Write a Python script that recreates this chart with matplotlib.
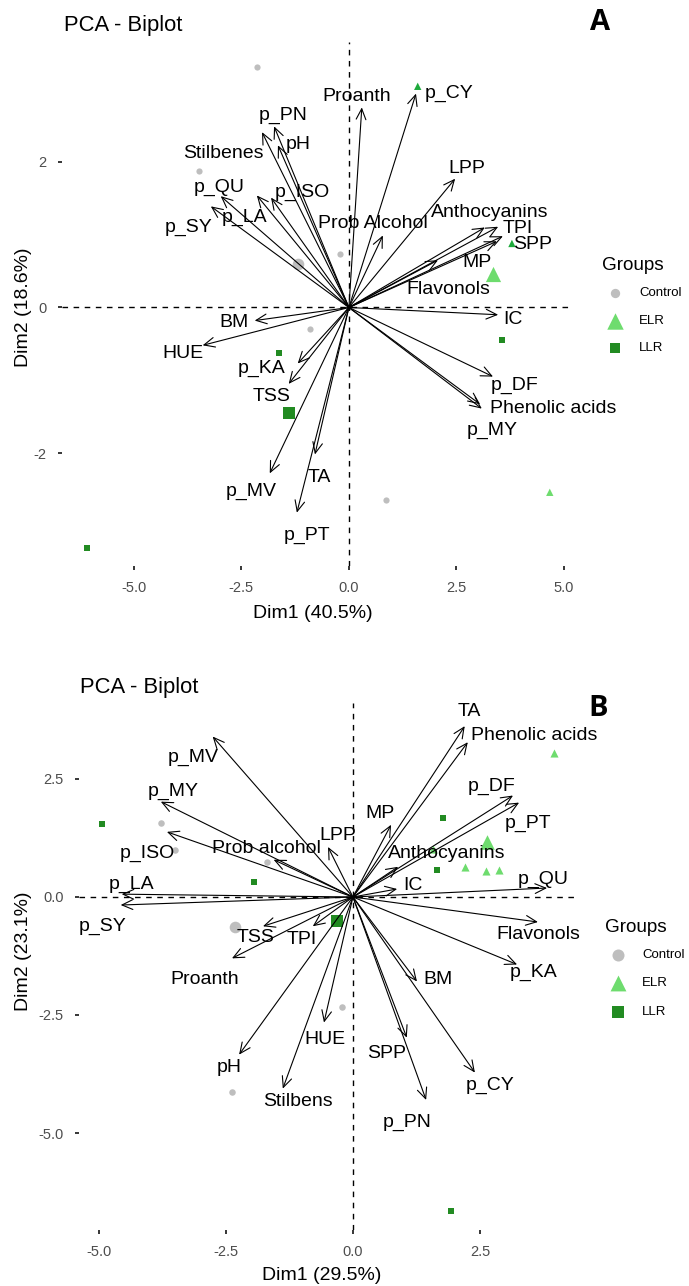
import numpy as np
import matplotlib
matplotlib.use("Agg")
import matplotlib.pyplot as plt

plt.rcParams["font.family"] = ["Liberation Sans", "DejaVu Sans"]

# ---------------- Panel A data ----------------
A_axis_x = "Dim1 (40.5%)"
A_axis_y = "Dim2 (18.6%)"
A_vars = ["Proanth", "p_CY", "LPP", "Anthocyanins", "TPI", "SPP", "MP", "Flavonols",
          "Prob Alcohol", "IC", "p_DF", "Phenolic acids", "p_MY", "BM", "HUE", "p_KA",
          "TSS", "p_MV", "TA", "p_PT", "p_PN", "Stilbenes", "pH", "p_QU", "p_SY",
          "p_LA", "p_ISO"]
A_load1 = [0.30, 1.56, 2.47, 3.16, 3.47, 3.58, 3.44, 2.07,
           0.79, 3.47, 3.35, 3.09, 3.05, -2.19, -3.40, -1.19,
           -1.40, -1.84, -0.79, -1.21, -1.74, -2.02, -1.65, -2.98, -3.21,
           -2.14, -1.81]
A_load2 = [2.75, 2.94, 1.77, 1.10, 1.11, 0.98, 0.91, 0.65,
           0.99, -0.10, -0.95, -1.39, -1.33, -0.18, -0.52, -0.77,
           -1.05, -2.28, -2.02, -2.82, 2.49, 2.41, 2.23, 1.53, 1.39,
           1.54, 1.51]
A_control_x = [-2.14, -3.49, -0.21, -0.91, 0.86]
A_control_y = [3.30, 1.87, 0.74, -0.30, -2.65]
A_elr_x = [1.60, 3.79, 4.67]
A_elr_y = [3.04, 0.88, -2.54]
A_llr_x = [-1.63, 3.56, -6.09]
A_llr_y = [-0.62, -0.44, -3.31]

# ---------------- Panel B data ----------------
B_axis_x = "Dim1 (29.5%)"
B_axis_y = "Dim2 (23.1%)"
B_vars = ["TA", "Phenolic acids", "p_DF", "p_PT", "MP", "Anthocyanins", "IC", "p_QU",
          "Flavonols", "p_KA", "BM", "SPP", "p_CY", "p_PN", "HUE", "pH", "Stilbens",
          "Proanth", "LPP", "Prob alcohol", "TSS", "TPI", "p_MV", "p_MY", "p_ISO",
          "p_LA", "p_SY"]
B_load1 = [2.20, 2.26, 3.15, 3.27, 0.75, 0.89, 0.87, 3.82,
           3.64, 3.23, 1.26, 1.06, 2.40, 1.44, -0.57, -2.24, -1.38,
           -2.38, -0.49, -1.56, -1.77, -0.79, -2.76, -3.78, -3.66,
           -4.55, -4.57]
B_load2 = [3.62, 3.28, 2.15, 2.00, 1.53, 0.64, 0.17, 0.19,
           -0.53, -1.43, -1.79, -2.98, -3.72, -4.30, -2.66, -3.34, -4.06,
           -1.30, 1.06, 0.79, -0.62, -0.62, 3.40, 2.02, 1.38,
           0.06, -0.17]
B_control_x = [-3.78, -3.50, -1.69, -0.22, -2.38]
B_control_y = [1.57, 1.00, 0.74, -2.34, -4.13]
B_elr_x = [3.96, 1.57, 2.20, 2.62, 2.87]
B_elr_y = [3.06, 1.02, 0.64, 0.55, 0.57]
B_llr_x = [-4.94, -1.95, 1.77, 1.65, 1.93]
B_llr_y = [1.55, 0.32, 1.68, 0.57, -6.66]

groups = ["Control", "ELR", "LLR"]

# ---------------- styling / layout ----------------
C_GRAY = "#BEBEBE"
C_LIGHT = "#6EDC6E"
C_DARK = "#228B22"
TICK_COLOR = "#4D4D4D"

# label offsets (pixels, relative to arrow tip)
A_label_off = {
    "Proanth": (-5, 11), "p_CY": (33, 0), "LPP": (12, 10), "Anthocyanins": (5, 15),
    "TPI": (20, -2), "SPP": (30, -8), "MP": (-20, -21), "Flavonols": (10, -29),
    "Prob Alcohol": (-10, 12), "IC": (15, -5), "p_DF": (22, -9),
    "Phenolic acids": (71, 0), "p_MY": (12, -26), "BM": (-21, -2), "HUE": (-20, -8),
    "p_KA": (-36, -5), "TSS": (-17, -13), "p_MV": (-19, -18), "TA": (4, -23),
    "p_PT": (10, -23), "p_PN": (9, 11), "Stilbenes": (-39, -21), "pH": (20, 1),
    "p_QU": (-2, 9), "p_SY": (-22, -21), "p_LA": (-12, -22), "p_ISO": (31, 5),
}
B_label_off = {
    "TA": (5, 15), "Phenolic acids": (66, 7), "p_DF": (-21, 9), "p_PT": (9, -21),
    "MP": (-11, 11), "Anthocyanins": (49, 13), "IC": (16, 3), "p_QU": (-4, 9),
    "Flavonols": (0, -12), "p_KA": (16, -8), "BM": (21, 2), "SPP": (-20, -16),
    "p_CY": (15, -13), "p_PN": (-19, -22), "HUE": (1, -17), "pH": (-10, -13),
    "Stilbens": (15, -13), "Proanth": (-27, -21), "LPP": (10, 11),
    "Prob alcohol": (-7, 11), "TSS": (-7, -11), "TPI": (-11, -13),
    "p_MV": (-19, -21), "p_MY": (12, 10), "p_ISO": (-20, -22), "p_LA": (10, 10),
    "p_SY": (-18, -21),
}

W, H = 689, 1286
fig = plt.figure(figsize=(W / 100, H / 100), dpi=100)


def frac(x0, y0, x1, y1):
    return [x0 / W, 1 - y1 / H, (x1 - x0) / W, (y1 - y0) / H]


def biplot(ax, vars_, l1, l2, offs, cx, cy, ex, ey, lx, ly, xlim, ylim,
           xticks, yticks, sizes, elr_colors=None):
    ax.set_xlim(*xlim)
    ax.set_ylim(*ylim)
    for s in ax.spines.values():
        s.set_visible(False)
    ax.axhline(0, color="black", lw=1.0, ls=(0, (4, 4)), zorder=1)
    ax.axvline(0, color="black", lw=1.0, ls=(0, (4, 4)), zorder=1)

    s_small_c, s_big_c, s_small_t, s_big_t, s_small_s, s_big_s = sizes
    # individuals
    ax.scatter(cx, cy, s=s_small_c, marker="o", color=C_GRAY, lw=0, zorder=2)
    ax.scatter(ex, ey, s=s_small_t, marker="^",
               color=elr_colors if elr_colors else C_LIGHT, lw=0, zorder=2)
    ax.scatter(lx, ly, s=s_small_s, marker="s", color=C_DARK, lw=0, zorder=2)
    # group means
    ax.scatter([np.mean(cx)], [np.mean(cy)], s=s_big_c, marker="o", color=C_GRAY, lw=0, zorder=2)
    ax.scatter([np.mean(ex)], [np.mean(ey)], s=s_big_t, marker="^", color=C_LIGHT, lw=0, zorder=2)
    ax.scatter([np.mean(lx)], [np.mean(ly)], s=s_big_s, marker="s", color=C_DARK, lw=0, zorder=2)

    # variable arrows
    for name, x, y in zip(vars_, l1, l2):
        ax.annotate("", xy=(x, y), xytext=(0, 0),
                    arrowprops=dict(arrowstyle="->,head_length=0.55,head_width=0.25",
                                    lw=0.8, color="black", shrinkA=0, shrinkB=0,
                                    mutation_scale=14),
                    zorder=3)
        dx, dy = offs[name]
        ax.annotate(name, xy=(x, y), xytext=(dx, dy), textcoords="offset pixels",
                    ha="center", va="center", fontsize=14, color="black", zorder=4)

    ax.set_xticks(xticks)
    ax.set_xticklabels([f"{t:.1f}" for t in xticks])
    ax.set_yticks(yticks)
    ax.tick_params(axis="both", direction="out", length=3, width=1.1, color="black",
                   labelsize=10.5, labelcolor=TICK_COLOR, pad=8)


# Panel A
axA = fig.add_axes(frac(62, 42, 573, 566))
biplot(axA, A_vars, A_load1, A_load2, A_label_off,
       A_control_x, A_control_y, A_elr_x, A_elr_y, A_llr_x, A_llr_y,
       xlim=(-6.67, 5.21), ylim=(-3.553, 3.649),
       xticks=[-5.0, -2.5, 0.0, 2.5, 5.0], yticks=[-2, 0, 2],
       sizes=(20, 70, 28, 120, 25, 72),
       elr_colors=["#1EAA3C", "#1EAA3C", C_LIGHT])
axA.set_yticklabels(["-2", "0", "2"])

# Panel B
axB = fig.add_axes(frac(79, 703, 577, 1230))
biplot(axB, B_vars, B_load1, B_load2, B_label_off,
       B_control_x, B_control_y, B_elr_x, B_elr_y, B_llr_x, B_llr_y,
       xlim=(-5.39, 4.409), ylim=(-7.055, 4.110),
       xticks=[-5.0, -2.5, 0.0, 2.5], yticks=[-5.0, -2.5, 0.0, 2.5],
       sizes=(22, 70, 34, 110, 25, 72))
axB.set_yticklabels(["-5.0", "-2.5", "0.0", "2.5"])

# Overlay for titles, axis titles and legends (pixel coordinates)
ov = fig.add_axes([0, 0, 1, 1])
ov.set_xlim(0, W)
ov.set_ylim(H, 0)
ov.axis("off")

ov.text(64, 25, "PCA - Biplot", fontsize=15.8, ha="left", va="center")
ov.text(80, 688, "PCA - Biplot", fontsize=15.8, ha="left", va="center")
ov.text(600, 22, "A", fontsize=21, fontweight="bold", family="Open Sans", ha="center", va="center")
ov.text(598, 708, "B", fontsize=21, fontweight="bold", family="Open Sans", ha="center", va="center")

ov.text(313, 613, A_axis_x, fontsize=14, ha="center", va="center")
ov.text(24, 307, A_axis_y, fontsize=14, ha="center", va="center", rotation=90)
ov.text(322, 1276, B_axis_x, fontsize=14, ha="center", va="center")
ov.text(24, 951, B_axis_y, fontsize=14, ha="center", va="center", rotation=90)


def legend(x_title, y_title, x_mark, x_text, ys, msizes):
    ov.text(x_title, y_title, "Groups", fontsize=13.6, ha="left", va="center")
    markers = ["o", "^", "s"]
    colors = [C_GRAY, C_LIGHT, C_DARK]
    for g, y, m, c, s in zip(groups, ys, markers, colors, msizes):
        ov.scatter([x_mark], [y], s=s, marker=m, color=c, lw=0)
        ov.text(x_text, y, g, fontsize=9.5, ha="left", va="center")


legend(602, 266, 615, 639, [293, 321, 348], (45, 140, 45))
legend(605, 928, 618, 642, [955, 983, 1012], (75, 130, 65))

fig.savefig("out.png", dpi=100)
